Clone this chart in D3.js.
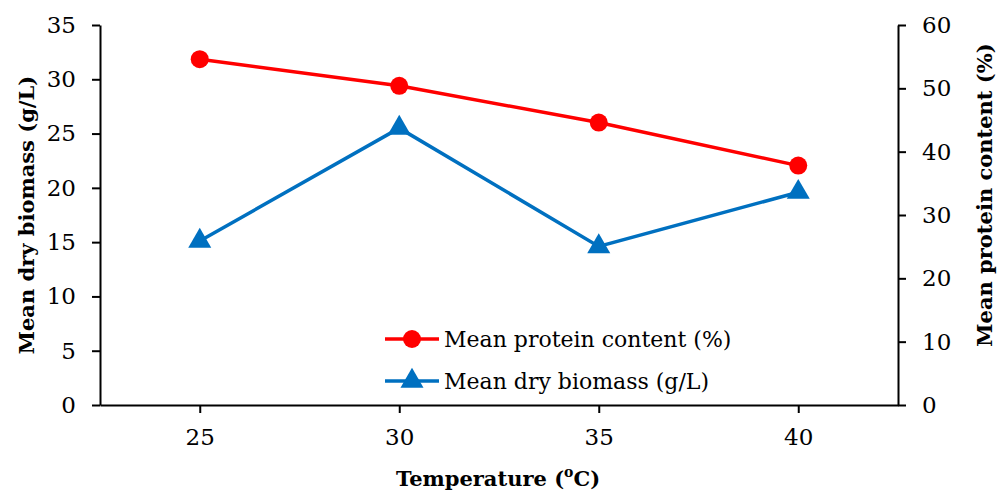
<!DOCTYPE html>
<html>
<head>
<meta charset="utf-8">
<script src="https://cdn.jsdelivr.net/npm/d3@7"></script>
<style>
  body { margin: 0; background: #fff; }
  text { font-family: "DejaVu Serif", serif; fill: #000; }
  .tick text { font-size: 23px; }
  .title { font-size: 21px; font-weight: bold; }
  .legend { font-size: 22px; }
</style>
</head>
<body>
<div id="chart"></div>
<script>
// data
const temperatures = [25, 30, 35, 40];
const proteinContent = [54.6, 50.4, 44.6, 37.8];   // right axis (%)
const dryBiomass = [15.1, 25.5, 14.6, 19.6];       // left axis (g/L)
const leftTicks = [0, 5, 10, 15, 20, 25, 30, 35];
const rightTicks = [0, 10, 20, 30, 40, 50, 60];

const width = 998, height = 493;
const margin = {left: 100, right: 100, top: 25, bottom: 88};
const plotW = width - margin.left - margin.right;
const plotH = height - margin.top - margin.bottom;

const svg = d3.select('#chart').append('svg')
    .attr('width', width)
    .attr('height', height);

const chart = svg.append('g').attr('transform', `translate(${margin.left}, ${margin.top})`);

const xScale = d3.scaleLinear().domain([22.5, 42.5]).range([0, plotW]);
const yLeft = d3.scaleLinear().domain([0, 35]).range([plotH, 0]);
const yRight = d3.scaleLinear().domain([0, 60]).range([plotH, 0]);

const styleAxis = (g) => {
    g.selectAll('.domain').attr('stroke', '#000').attr('stroke-width', 2);
    g.selectAll('.tick line').attr('stroke', '#000').attr('stroke-width', 2);
    g.attr('font-family', null).attr('font-size', null);
};

chart.append('g')
    .attr('transform', `translate(0, ${plotH})`)
    .call(d3.axisBottom(xScale).tickValues(temperatures).tickSizeInner(8).tickSizeOuter(0).tickPadding(16))
    .call(styleAxis);

chart.append('g')
    .call(d3.axisLeft(yLeft).tickValues(leftTicks).tickSizeInner(8).tickSizeOuter(0).tickPadding(16))
    .call(styleAxis);

chart.append('g')
    .attr('transform', `translate(${plotW}, 0)`)
    .call(d3.axisRight(yRight).tickValues(rightTicks).tickSizeInner(8).tickSizeOuter(0).tickPadding(16))
    .call(styleAxis);

const proteinData = temperatures.map((t, i) => ({t: t, v: proteinContent[i]}));
const biomassData = temperatures.map((t, i) => ({t: t, v: dryBiomass[i]}));

// protein line (red, circles)
chart.append('path')
    .datum(proteinData)
    .attr('fill', 'none')
    .attr('stroke', '#ff0000')
    .attr('stroke-width', 3.5)
    .attr('d', d3.line().x(d => xScale(d.t)).y(d => yRight(d.v)));

chart.selectAll('.pt-protein')
    .data(proteinData)
    .enter()
    .append('circle')
    .attr('cx', d => xScale(d.t))
    .attr('cy', d => yRight(d.v))
    .attr('r', 9)
    .attr('fill', '#ff0000');

// biomass line (blue, triangles)
chart.append('path')
    .datum(biomassData)
    .attr('fill', 'none')
    .attr('stroke', '#0070c0')
    .attr('stroke-width', 3.5)
    .attr('d', d3.line().x(d => xScale(d.t)).y(d => yLeft(d.v)));

const tri = d3.symbol().type(d3.symbolTriangle).size(230);
chart.selectAll('.pt-biomass')
    .data(biomassData)
    .enter()
    .append('path')
    .attr('transform', d => `translate(${xScale(d.t)}, ${yLeft(d.v)})`)
    .attr('d', tri)
    .attr('fill', '#0070c0');

// legend
const legendItems = [
    {label: 'Mean protein content (%)', color: '#ff0000', shape: 'circle'},
    {label: 'Mean dry biomass (g/L)', color: '#0070c0', shape: 'triangle'}
];
const legend = svg.append('g').attr('transform', 'translate(385, 339)');
legendItems.forEach((item, i) => {
    const g = legend.append('g').attr('transform', `translate(0, ${i * 42})`);
    g.append('line').attr('x1', 0).attr('x2', 54).attr('y1', 0).attr('y2', 0)
        .attr('stroke', item.color).attr('stroke-width', 3.5);
    if (item.shape === 'circle') {
        g.append('circle').attr('cx', 27).attr('cy', 0).attr('r', 9).attr('fill', item.color);
    } else {
        g.append('path').attr('transform', 'translate(27, 0)').attr('d', tri).attr('fill', item.color);
    }
    g.append('text').attr('class', 'legend').attr('x', 59).attr('y', 8).text(item.label);
});

// axis titles
svg.append('text')
    .attr('class', 'title')
    .attr('transform', 'translate(34, 215) rotate(-90)')
    .attr('text-anchor', 'middle')
    .text('Mean dry biomass (g/L)');

svg.append('text')
    .attr('class', 'title')
    .attr('transform', 'translate(992, 195) rotate(-90)')
    .attr('text-anchor', 'middle')
    .text('Mean protein content (%)');

const xt = svg.append('text')
    .attr('class', 'title')
    .attr('x', 498)
    .attr('y', 486)
    .attr('text-anchor', 'middle');
xt.append('tspan').text('Temperature (');
xt.append('tspan').attr('dy', -9).attr('font-size', 14).text('o');
xt.append('tspan').attr('dy', 9).text('C)');
</script>
</body>
</html>
